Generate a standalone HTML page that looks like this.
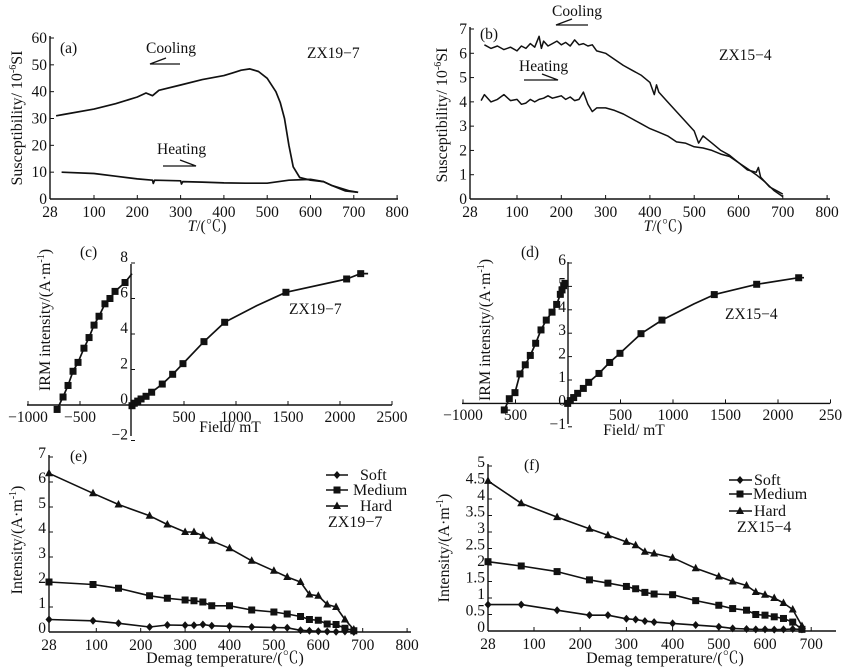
<!DOCTYPE html>
<html><head><meta charset="utf-8">
<style>
html,body{margin:0;padding:0;background:#fff;}
svg{display:block;font-family:"Liberation Serif","Noto Serif CJK SC",serif;}
text{fill:#111;}
</style></head>
<body>
<svg id="fig" width="842" height="668" viewBox="0 0 842 668"></svg>
<script>
// ---------- DATA ----------
const aCoolT=[38,50,100,150,200,220,235,250,300,350,400,420,440,460,480,500,520,530,540,550,560,575,600,630,650,690,710];
const aCoolK=[31,31.5,33.5,35.5,38,39.5,38.5,40.5,42.5,44.5,46,47,48,48.5,47.5,45,40,36,30,20,12,8,7,6.5,5,3,2.5];
const aHeatT=[47,100,150,200,235,237,240,300,302,305,350,400,450,500,550,600,630,650,680,710];
const aHeatK=[10,9.5,8.5,7.5,7,5.8,7,6.8,5.6,6.5,6.3,6,5.9,5.9,7,7.3,6.5,5,3,2.5];
const bCoolT=[50,60,70,80,90,100,110,120,130,140,150,155,160,170,180,190,200,210,220,230,240,250,260,270,280,300,320,340,360,380,400,410,415,420,440,460,480,500,510,520,540,560,580,600,620,640,645,650,670,690,700];
const bCoolK=[6.35,6.2,6.3,6.15,6.25,6.1,6.3,6.2,6.4,6.25,6.7,6.2,6.5,6.3,6.4,6.5,6.35,6.45,6.3,6.55,6.35,6.4,6.3,6.35,6.1,6.0,5.75,5.5,5.3,5.1,4.8,4.3,4.7,4.4,4.0,3.6,3.2,2.8,2.3,2.6,2.3,2.0,1.8,1.5,1.2,1.1,1.3,0.9,0.5,0.3,0.2];
const bHeatT=[45,50,60,70,80,90,100,110,120,130,140,150,160,170,180,190,200,210,220,230,240,250,260,270,280,300,320,340,360,380,400,420,440,460,480,500,520,540,560,580,600,620,640,660,680,700];
const bHeatK=[4.05,4.3,4.0,4.1,4.3,4.05,4.1,3.9,3.95,4.1,4.0,4.1,4.15,4.25,4.15,4.2,4.25,4.1,4.2,4.05,4.1,4.4,3.9,3.6,3.75,3.75,3.65,3.5,3.3,3.1,2.9,2.75,2.6,2.35,2.3,2.15,2.1,2.0,1.85,1.75,1.5,1.25,1.0,0.7,0.35,0.1];
const cBackField=[-720,-663,-615,-567,-519,-462,-413,-365,-317,-260,-212,-163,-67,0];
const cBackIRM=[-0.25,0.45,1.1,1.9,2.4,3.2,3.8,4.5,5.0,5.7,6.0,6.4,6.9,7.4];
const cField=[0,22,55,87,135,189,291,391,490,692,891,1200,1480,2064,2199,2270];
const cIRM=[-0.04,0.1,0.22,0.34,0.49,0.72,1.18,1.73,2.33,3.57,4.66,5.6,6.35,7.1,7.4,7.4];
const cMarkF=[-720,-663,-615,-567,-519,-462,-413,-365,-317,-260,-212,-163,-67,0,22,55,87,135,189,291,391,490,692,891,1480,2064,2199];
const cMarkI=[-0.25,0.45,1.1,1.9,2.4,3.2,3.8,4.5,5.0,5.7,6.0,6.4,6.9,-0.04,0.1,0.22,0.34,0.49,0.72,1.18,1.73,2.33,3.57,4.66,6.35,7.1,7.4];
const dBackField=[-607,-559,-505,-457,-407,-359,-308,-257,-207,-152,-108,-73,-57,-41,-29,-10];
const dBackIRM=[-0.28,0.2,0.46,1.26,1.65,2.05,2.57,3.14,3.56,3.9,4.23,4.66,4.85,5.03,5.13,5.15];
const dField=[-3,22,54,92,146,197,295,397,495,695,895,1200,1393,1797,2197,2248];
const dIRM=[0,0.12,0.25,0.43,0.64,0.9,1.28,1.75,2.14,2.98,3.56,4.25,4.65,5.09,5.37,5.37];
const dMarkF=[-607,-559,-505,-457,-407,-359,-308,-257,-207,-152,-108,-73,-57,-41,-29,-3,22,54,92,146,197,295,397,495,695,895,1393,1797,2197];
const dMarkI=[-0.28,0.2,0.46,1.26,1.65,2.05,2.57,3.14,3.56,3.9,4.23,4.66,4.85,5.03,5.13,0,0.12,0.25,0.43,0.64,0.9,1.28,1.75,2.14,2.98,3.56,4.65,5.09,5.37];
const eTemp=[28,95,150,220,260,300,320,340,360,400,450,500,530,560,580,600,620,640,660,680];
const eHard=[6.35,5.55,5.1,4.65,4.3,4.0,4.0,3.85,3.65,3.35,2.85,2.45,2.2,2.0,1.5,1.45,1.1,1.0,0.5,0.1];
const eMedium=[2.0,1.9,1.75,1.45,1.35,1.28,1.25,1.2,1.05,1.05,0.88,0.8,0.72,0.62,0.5,0.47,0.32,0.3,0.15,0.05];
const eSoft=[0.5,0.45,0.35,0.2,0.28,0.27,0.27,0.3,0.25,0.23,0.2,0.18,0.17,0.07,0.05,0.03,0.02,0.01,0.02,0];
const fTemp=[28,80,150,220,260,300,320,340,360,400,450,500,530,560,580,600,620,640,660,680];
const fHard=[4.55,3.87,3.45,3.1,2.9,2.7,2.6,2.4,2.35,2.22,1.9,1.65,1.5,1.38,1.18,1.1,1.0,0.85,0.65,0.15];
const fMedium=[2.1,1.97,1.8,1.55,1.45,1.35,1.28,1.17,1.12,1.1,0.92,0.78,0.68,0.63,0.5,0.48,0.43,0.38,0.27,0.05];
const fSoft=[0.8,0.8,0.63,0.48,0.48,0.37,0.35,0.3,0.27,0.23,0.18,0.13,0.08,0.06,0.05,0.05,0.04,0.05,0.06,0.05];
const tempTicks=[28,100,200,300,400,500,600,700,800];
const aYTicks=[0,10,20,30,40,50,60];
const bYTicks=[0,1,2,3,4,5,6,7];
const cXTicks=[-1000,-500,500,1000,1500,2000,2500];
const cYTicks=[-2,0,2,4,6,8];
const dXTicks=[-1000,-500,500,1000,1500,2000,2500];
const dXLabels=["\u22121000","500","500","1000","1500","2000","250"];
const dYTicks=[-1,0,1,2,3,4,5,6];
const eYTicks=[0,1,2,3,4,5,6,7];
const fYTicks=[0,0.5,1,1.5,2,2.5,3,3.5,4,4.5,5];
const fXTicks=[28,100,200,300,400,500,600,700];

// ---------- HELPERS ----------
const NS="http://www.w3.org/2000/svg";
const svg=document.getElementById('fig');
const FS=15.5;
function el(tag,attrs,parent,txt){const e=document.createElementNS(NS,tag);for(const k in attrs)e.setAttribute(k,attrs[k]);if(txt!==undefined)e.textContent=txt;(parent||svg).appendChild(e);return e;}
function piece(dom,rng){return v=>{for(let i=0;i<dom.length-1;i++){if(v<=dom[i+1]||i===dom.length-2){const t=(v-dom[i])/(dom[i+1]-dom[i]);return rng[i]+t*(rng[i+1]-rng[i]);}}};}
function lin(v0,p0,slope){return v=>p0+(v-v0)*slope;}
function tempScale(o,p100,per100){return piece([28,100,800],[o,p100,p100+7*per100]);}
function line(g,xs,ys,sx,sy,name,w){const pts=xs.map((x,i)=>sx(x).toFixed(1)+','+sy(ys[i]).toFixed(1)).join(' ');const p=el('polyline',{points:pts,fill:'none',stroke:'#111','stroke-width':w||1.7,'stroke-linejoin':'round'},g);return p;}
function marker(g,type,cx,cy,name){let m;
 if(type==='sq')m=el('rect',{x:cx-3.5,y:cy-3.5,width:7,height:7,fill:'#111'},g);
 else if(type==='di')m=el('polygon',{points:`${cx},${cy-4} ${cx+3.5},${cy} ${cx},${cy+4} ${cx-3.5},${cy}`,fill:'#111'},g);
 else m=el('polygon',{points:`${cx},${cy-4.5} ${cx+4},${cy+3} ${cx-4},${cy+3}`,fill:'#111'},g);
 }
function txt(g,x,y,s,name,opts){const t=el('text',Object.assign({x:x,y:y,'font-size':FS},opts||{}),g,s);return t;}
function axes(g,x0,x1,y0,y1,xAxisY,yAxisX){const a=el('line',{x1:x0,y1:xAxisY,x2:x1,y2:xAxisY,stroke:'#111','stroke-width':1.4},g);
 const b=el('line',{x1:yAxisX,y1:y0,x2:yAxisX,y2:y1,stroke:'#111','stroke-width':1.4},g);}
function xticks(g,vals,labels,sx,ay,ly){vals.forEach((v,i)=>{const x=sx(v);el('line',{x1:x,y1:ay,x2:x,y2:ay-4,stroke:'#111','stroke-width':1},g);txt(g,x,ly,labels[i],'x-tick-label',{'text-anchor':'middle'});});}
function yticks(g,vals,labels,sy,ax,lx,dy){vals.forEach((v,i)=>{const y=sy(v);el('line',{x1:ax,y1:y,x2:ax+4,y2:y,stroke:'#111','stroke-width':1},g);txt(g,lx,y+5+(dy||0),labels[i],'y-tick-label',{'text-anchor':'end'});});}
function rotLabel(g,x,y,parts,name){const t=el('text',{x:0,y:0,'font-size':16,transform:`translate(${x},${y}) rotate(-90)`,'text-anchor':'middle'},g);parts.forEach(p=>{el('tspan',p.sup?{'font-size':10,dy:-6}:(p.down?{dy:6}:{}),t,p.t);});}
function arrow(g,x1,x2,y,dir,name){const p=el('path',{d:dir<0?`M${x2},${y} L${x1},${y} L${x1+16},${y-6}`:`M${x1},${y} L${x2},${y} L${x2-16},${y-6}`,fill:'none',stroke:'#111','stroke-width':1.3},g);}
function group(name){const g=el('g',{},svg);return g;}

// ---------- PANEL A ----------
(function(){const g=group('panel-a');const sx=tempScale(50,94,43.3),sy=lin(0,199,-161/60);
 axes(g,50,398,36,199,199,50);
 xticks(g,tempTicks,tempTicks.map(String),sx,199,217);
 yticks(g,aYTicks,aYTicks.map(String),sy,50,47);
 line(g,aCoolT,aCoolK,sx,sy,'cooling-curve');line(g,aHeatT,aHeatK,sx,sy,'heating-curve');
 txt(g,60,53,'(a)','panel-label');txt(g,146,53,'Cooling','cooling-label');arrow(g,150,180,64,-1,'cooling-arrow');
 txt(g,157,154,'Heating','heating-label');arrow(g,163,196,166,1,'heating-arrow');
 txt(g,307,58,'ZX19\u22127','sample-label');
 const t=txt(g,207,231,'','x-axis-title',{'text-anchor':'middle'});el('tspan',{'font-style':'italic'},t,'T');el('tspan',{},t,'/(\u2103)');
 rotLabel(g,22,118,[{t:'Susceptibility/ 10'},{t:'-6',sup:1},{t:'SI',down:1}],'y-axis-title');})();

// ---------- PANEL B ----------
(function(){const g=group('panel-b');const sx=tempScale(470,517,44.3),sy=lin(0,199,-170/7);
 axes(g,470,830,27,199,199,470);
 xticks(g,tempTicks,tempTicks.map(String),sx,199,217);
 yticks(g,bYTicks,bYTicks.map(String),sy,470,467);
 line(g,bCoolT,bCoolK,sx,sy,'cooling-curve',1.5);line(g,bHeatT,bHeatK,sx,sy,'heating-curve',1.5);
 txt(g,480,39,'(b)','panel-label');txt(g,552,16,'Cooling','cooling-label');arrow(g,556,588,25,-1,'cooling-arrow');
 txt(g,519,71,'Heating','heating-label');arrow(g,524,558,80,1,'heating-arrow');
 txt(g,719,60,'ZX15\u22124','sample-label');
 const t=txt(g,663,231,'','x-axis-title',{'text-anchor':'middle'});el('tspan',{'font-style':'italic'},t,'T');el('tspan',{},t,'/(\u2103)');
 rotLabel(g,447,115,[{t:'Susceptibility/ 10'},{t:'-6',sup:1},{t:'SI',down:1}],'y-axis-title');})();

// ---------- PANEL C ----------
(function(){const g=group('panel-c');const sx=lin(0,132,0.104),sy=lin(0,405,-17.75);
 axes(g,27,392,264,436,405,131);
 xticks(g,cXTicks,cXTicks.map(v=>v<0?'\u2212'+(-v):String(v)),sx,405,422);
 yticks(g,cYTicks,cYTicks.map(v=>v<0?'\u2212'+(-v):String(v)),sy,131,128,-6);
 line(g,cBackField,cBackIRM,sx,sy,'backfield-curve');line(g,cField,cIRM,sx,sy,'irm-curve');
 cMarkF.forEach((f,i)=>marker(g,'sq',sx(f),sy(cMarkI[i]),'irm-point'));
 txt(g,80,257,'(c)','panel-label');txt(g,289,314,'ZX19\u22127','sample-label');
 txt(g,230,432,'Field/ mT','x-axis-title',{'text-anchor':'middle'});
 rotLabel(g,50,320,[{t:'IRM intensity/(A\u00b7m'},{t:'-1',sup:1},{t:')',down:1}],'y-axis-title');})();

// ---------- PANEL D ----------
(function(){const g=group('panel-d');const sx=lin(0,568,0.105),sy=lin(0,403.4,-23.4);
 axes(g,462,830,262,424,403.4,568);
 xticks(g,dXTicks,dXLabels,sx,403.4,420);
 yticks(g,dYTicks,dYTicks.map(v=>v<0?'\u2212'+(-v):String(v)),sy,568,566,-3);
 line(g,dBackField,dBackIRM,sx,sy,'backfield-curve');line(g,dField,dIRM,sx,sy,'irm-curve');
 dMarkF.forEach((f,i)=>marker(g,'sq',sx(f),sy(dMarkI[i]),'irm-point'));
 txt(g,521,257,'(d)','panel-label');txt(g,725,319,'ZX15\u22124','sample-label');
 txt(g,634,435,'Field/ mT','x-axis-title',{'text-anchor':'middle'});
 rotLabel(g,490,330,[{t:'IRM intensity/(A\u00b7m'},{t:'-1',sup:1},{t:')',down:1}],'y-axis-title');})();

// ---------- PANEL E ----------
(function(){const g=group('panel-e');const sx=tempScale(49,96.3,44.4),sy=lin(0,632,-25);
 axes(g,49,411,455,632,632,49);
 xticks(g,tempTicks,tempTicks.map(String),sx,632,650);
 yticks(g,eYTicks,eYTicks.map(String),sy,49,46,-4);
 [['hard',eHard,'tr'],['medium',eMedium,'sq'],['soft',eSoft,'di']].forEach(([n,arr,m])=>{line(g,eTemp,arr,sx,sy,n+'-line',1.6);eTemp.forEach((t,i)=>marker(g,m,sx(t),sy(arr[i]),n+'-point'));});
 txt(g,70,461,'(e)','panel-label');
 [['Soft','di',475,360],['Medium','sq',490,353],['Hard','tr',506,360]].forEach(([s,m,y,tx])=>{const lg=group('legend-entry');el('line',{x1:326,y1:y,x2:348,y2:y,stroke:'#111','stroke-width':1.5},lg);marker(lg,m,337,y,'legend-marker');txt(lg,tx,y+5,s,'legend-label',{'font-size':16});});
 txt(g,328,527,'ZX19\u22127','sample-label',{'font-size':16});
 txt(g,225,663,'Demag temperature/(\u2103)','x-axis-title',{'text-anchor':'middle','font-size':16});
 rotLabel(g,22,540,[{t:'Intensity/(A\u00b7m'},{t:'-1',sup:1},{t:')',down:1}],'y-axis-title');})();

// ---------- PANEL F ----------
(function(){const g=group('panel-f');const sx=tempScale(488,534,46.2),sy=lin(0,631,-33);
 axes(g,488,836,464,631,631,488);
 xticks(g,fXTicks,fXTicks.map(String),sx,631,649);
 yticks(g,fYTicks,fYTicks.map(String),sy,488,485,-4);
 [['hard',fHard,'tr'],['medium',fMedium,'sq'],['soft',fSoft,'di']].forEach(([n,arr,m])=>{line(g,fTemp,arr,sx,sy,n+'-line',1.6);fTemp.forEach((t,i)=>marker(g,m,sx(t),sy(arr[i]),n+'-point'));});
 txt(g,524,470,'(f)','panel-label');
 [['Soft','di',480,754],['Medium','sq',494,753],['Hard','tr',511,754]].forEach(([s,m,y,tx])=>{const lg=group('legend-entry');el('line',{x1:729,y1:y,x2:752,y2:y,stroke:'#111','stroke-width':1.5},lg);marker(lg,m,740,y,'legend-marker');txt(lg,tx,y+5,s,'legend-label',{'font-size':16});});
 txt(g,737,532,'ZX15\u22124','sample-label',{'font-size':16});
 txt(g,665,663,'Demag temperature/(\u2103)','x-axis-title',{'text-anchor':'middle','font-size':16});
 rotLabel(g,449,548,[{t:'Intensity/(A\u00b7m'},{t:'-1',sup:1},{t:')',down:1}],'y-axis-title');})();
</script>
</body></html>
